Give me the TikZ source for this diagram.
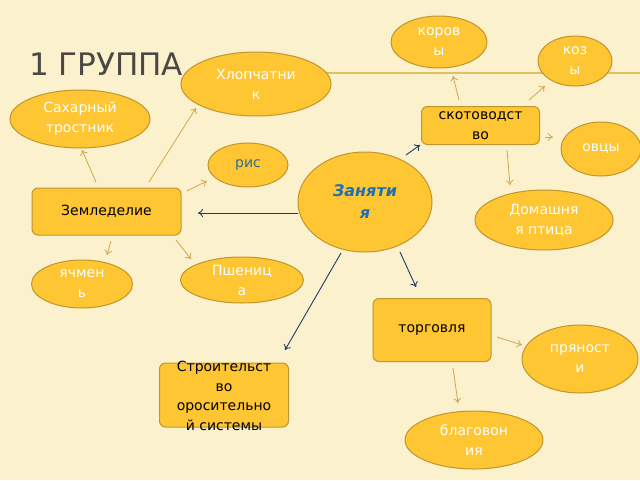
\documentclass[tikz,border=0pt]{standalone}
\usepackage{fontspec}
\setmainfont{DejaVu Sans}
\usetikzlibrary{shapes.geometric,arrows.meta}
\definecolor{bgc}{HTML}{FCF1CD}
\definecolor{fillc}{HTML}{FFC633}
\definecolor{edgec}{HTML}{BF962E}
\definecolor{arrg}{HTML}{D2A54F}
\definecolor{navyc}{HTML}{1F3A6E}
\definecolor{titlec}{HTML}{4A4744}
\definecolor{linec}{HTML}{E6BE62}
\definecolor{zanc}{HTML}{1F6FB5}
\definecolor{risc}{HTML}{2F6E8E}
\tikzset{
  ell/.style={ellipse, draw=edgec, fill=fillc, line width=1pt, inner sep=0pt, align=center, text=white, font=\fontsize{14}{20}\selectfont},
  box/.style={rectangle, rounded corners=6pt, draw=edgec, fill=fillc, line width=1pt, inner sep=0pt, align=center, text=black, font=\fontsize{14}{20}\selectfont},
  ga/.style={draw=arrg, line width=0.8pt, -{To[length=5pt,width=8pt]}},
  na/.style={draw=navyc, line width=0.9pt, -{To[length=5pt,width=8pt]}}
}
\begin{document}
\begin{tikzpicture}[x=1pt,y=-1pt]
\fill[bgc] (0,0) rectangle (640,480);
\useasboundingbox (0,0) rectangle (640,480);
\node[anchor=base west, text=titlec, font=\fontsize{31}{31}\selectfont, inner sep=0pt] (title) at (29,75) {1 ГРУППА};
\coordinate (linestart) at (186,73);
\coordinate (lineend) at (640,73);
\draw[linec, line width=1.2pt] (linestart) -- (lineend);

\node[ell, minimum width=96pt, minimum height=52pt] (kor) at (439,42) {коров\\ы};
\node[ell, minimum width=74pt, minimum height=50pt] (koz) at (575,61) {коз\\ы};
\node[ell, minimum width=150pt, minimum height=64pt] (hlop) at (256,84) {Хлопчатни\\к};
\node[ell, minimum width=140pt, minimum height=58pt] (sah) at (80,119) {Сахарный\\тростник};
\node[box, minimum width=118pt, minimum height=38pt] (skot) at (480.5,125.5) {скотоводст\\во};
\node[ell, minimum width=80pt, minimum height=54pt] (ovc) at (601,149) {овцы};
\node[ell, minimum width=80pt, minimum height=44pt, text=risc] (ris) at (248,165) {рис};
\node[ell, minimum width=134pt, minimum height=100pt, text=zanc, font=\fontsize{16}{22}\selectfont\bfseries\itshape] (zan) at (365,202) {Заняти\\я};
\node[box, minimum width=149pt, minimum height=47pt] (zem) at (106.5,211.5) {Земледелие};
\node[ell, minimum width=138pt, minimum height=60pt] (dom) at (544,220) {Домашня\\я птица};
\node[ell, minimum width=123pt, minimum height=46pt] (psh) at (242,280) {Пшениц\\а};
\node[ell, minimum width=101pt, minimum height=48pt] (yach) at (82,284) {ячмен\\ь};
\node[box, minimum width=118pt, minimum height=63pt] (torg) at (432,330) {торговля};
\node[ell, minimum width=116pt, minimum height=68pt] (pry) at (580,359) {пряност\\и};
\node[box, minimum width=129pt, minimum height=64pt] (str) at (224,395) {};
\node[align=center, text=black, font=\fontsize{14}{19.5}\selectfont, inner sep=0pt] (strt) at (224,396) {Строительст\\во\\оросительно\\й системы};
\node[ell, minimum width=138pt, minimum height=58pt] (blag) at (474,440) {благовон\\ия};

\draw[ga] ([shift={(-10.5,-29.5)}]zem.center) -- ([shift={(2,31)}]sah.center);
\draw[ga] ([shift={(42.5,-29.5)}]zem.center) -- ([shift={(-60,24)}]hlop.center);
\draw[ga] ([shift={(80.5,-20.5)}]zem.center) -- ([shift={(-41,16)}]ris.center);
\draw[ga] ([shift={(4.5,29.5)}]zem.center) -- ([shift={(25,-29)}]yach.center);
\draw[ga] ([shift={(69.5,28.5)}]zem.center) -- ([shift={(-51,-21)}]psh.center);
\draw[na] ([shift={(-67,11)}]zan.center) -- ([shift={(91.5,1.5)}]zem.center);
\draw[na] ([shift={(41,-47)}]zan.center) -- ([shift={(-60.5,19.5)}]skot.center);
\draw[na] ([shift={(35,50)}]zan.center) -- ([shift={(-16,-43)}]torg.center);
\draw[na] ([shift={(-24,51)}]zan.center) -- ([shift={(61,-45)}]str.center);
\draw[ga] ([shift={(-21.5,-25.5)}]skot.center) -- ([shift={(14,34)}]kor.center);
\draw[ga] ([shift={(48.5,-25.5)}]skot.center) -- ([shift={(-30,25)}]koz.center);
\draw[ga] ([shift={(64.5,11.5)}]skot.center) -- ([shift={(-48,-12)}]ovc.center);
\draw[ga] ([shift={(26.5,24.5)}]skot.center) -- ([shift={(-34,-35)}]dom.center);
\draw[ga] ([shift={(65,7)}]torg.center) -- ([shift={(-58,-14)}]pry.center);
\draw[ga] ([shift={(21,38)}]torg.center) -- ([shift={(-16,-37)}]blag.center);
\end{tikzpicture}
\end{document}
